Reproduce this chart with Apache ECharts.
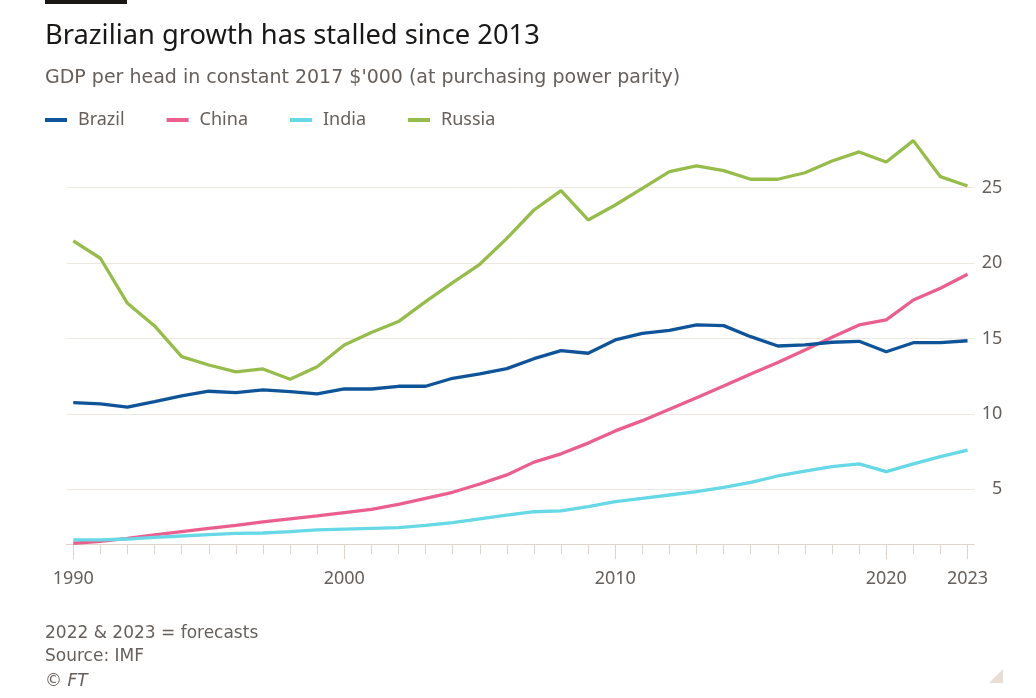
<!DOCTYPE html>
<html>
<head>
<meta charset="utf-8">
<script src="https://cdn.jsdelivr.net/npm/echarts@6/dist/echarts.min.js"></script>
<style>
html,body{margin:0;padding:0;background:#fff;}
#chart{width:1036px;height:698px;}
</style>
</head>
<body>
<div id="chart"></div>
<script>
const years = [1990,1991,1992,1993,1994,1995,1996,1997,1998,1999,2000,2001,2002,2003,2004,2005,2006,2007,2008,2009,2010,2011,2012,2013,2014,2015,2016,2017,2018,2019,2020,2021,2022,2023];
const brazil = [10.74,10.66,10.44,10.81,11.19,11.5,11.41,11.59,11.47,11.32,11.65,11.65,11.83,11.83,12.36,12.65,13.0,13.66,14.19,14.02,14.9,15.34,15.54,15.9,15.85,15.12,14.5,14.57,14.75,14.81,14.12,14.72,14.73,14.85];
const china = [1.42,1.55,1.75,1.97,2.19,2.41,2.61,2.83,3.03,3.23,3.45,3.67,4.0,4.4,4.8,5.35,5.95,6.8,7.35,8.06,8.87,9.55,10.3,11.07,11.85,12.65,13.4,14.24,15.08,15.9,16.23,17.55,18.33,19.26];
const india = [1.64,1.64,1.7,1.81,1.9,1.99,2.08,2.1,2.19,2.3,2.36,2.41,2.45,2.61,2.79,3.03,3.28,3.51,3.56,3.85,4.18,4.4,4.62,4.84,5.13,5.46,5.88,6.21,6.5,6.68,6.17,6.68,7.16,7.6];
const russia = [21.47,20.32,17.33,15.83,13.8,13.24,12.78,12.98,12.29,13.13,14.57,15.39,16.12,17.44,18.7,19.92,21.64,23.52,24.8,22.86,23.85,24.95,26.06,26.44,26.13,25.56,25.56,25.99,26.77,27.37,26.7,28.12,25.73,25.11];
const seriesNames = ['Brazil','China','India','Russia'];
const xLabelYears = [1990,2000,2010,2020,2023];
const yTicks = [5,10,15,20,25];
const titleText = 'Brazilian growth has stalled since 2013';
const subtitleText = "GDP per head in constant 2017 $'000 (at purchasing power parity)";
const footnotes = ['2022 & 2023 = forecasts','Source: IMF','© FT'];

const colors = ['#0f5499','#eb5f8f','#67d8e6','#96bc4b'];
const values = [brazil, china, india, russia];
const FONT = "'Noto Sans', sans-serif";
const FONT2 = "'DejaVu Sans', sans-serif";
const GREY = '#66605c';
const AXIS = '#ddd4cc';

const chart = echarts.init(document.getElementById('chart'), null, {renderer:'canvas'});
chart.setOption({
  backgroundColor:'#ffffff',
  animation:false,
  textStyle:{fontFamily:FONT},
  title:[
    {text:titleText, left:45, top:21, padding:0, textStyle:{fontFamily:FONT, fontSize:27.3, fontWeight:'normal', color:'#1a1817', lineHeight:30}},
    {text:subtitleText, left:45, top:66, padding:0, textStyle:{fontFamily:FONT2, fontSize:19, fontWeight:'normal', color:GREY, lineHeight:24}},
    {text:footnotes[0], left:45, top:622, padding:0, textStyle:{fontFamily:FONT2, fontSize:17, fontWeight:'normal', color:GREY, lineHeight:24}},
    {text:footnotes[1], left:45, top:645, padding:0, textStyle:{fontFamily:FONT2, fontSize:17, fontWeight:'normal', color:GREY, lineHeight:24}},
    {text:footnotes[2], left:45, top:670, padding:0, textStyle:{fontFamily:FONT2, fontSize:17, fontWeight:'normal', fontStyle:'italic', color:GREY, lineHeight:24}}
  ],
  legend:{
    left:45, top:108, padding:0, icon:'rect', itemWidth:22, itemHeight:4, itemGap:42,
    data:seriesNames,
    textStyle:{fontFamily:FONT, fontSize:18, color:GREY, lineHeight:24, padding:[0,0,0,6]}
  },
  graphic:[
    {type:'rect', shape:{x:45,y:0,width:82,height:4}, style:{fill:'#1a1817'}},
    {type:'polygon', shape:{points:[[989,683],[1003,669],[1003,683]]}, style:{fill:'#e8ded5'}}
  ],
  grid:{left:66.5, right:61.7, top:134.9, bottom:153.7, containLabel:false},
  xAxis:[
    {type:'value', min:1989.75, max:2023.25, position:'bottom',
     axisLine:{show:true, lineStyle:{color:AXIS, width:1}},
     axisTick:{show:true, customValues:years, length:10, lineStyle:{color:AXIS}},
     axisLabel:{show:false},
     splitLine:{show:false}},
    {type:'value', min:1989.75, max:2023.25, position:'bottom',
     axisLine:{show:false},
     axisTick:{show:true, customValues:xLabelYears, length:15, lineStyle:{color:AXIS}},
     axisLabel:{show:true, customValues:xLabelYears, margin:26, fontSize:18, color:GREY, fontFamily:FONT, formatter:v=>String(v)},
     splitLine:{show:false}}
  ],
  yAxis:{
    type:'value', position:'right', min:1.35, max:28.5,
    axisLine:{show:false},
    axisTick:{show:false, customValues:yTicks},
    axisLabel:{customValues:yTicks, margin:28, align:'right', fontSize:18, color:GREY, fontFamily:FONT},
    splitLine:{show:true, customValues:yTicks, lineStyle:{color:'#eee8e2', width:1}}
  },
  series: seriesNames.map((n,i)=>({
    name:n, type:'line', xAxisIndex:0, yAxisIndex:0,
    data: years.map((y,j)=>[y, values[i][j]]),
    showSymbol:false, symbol:'none',
    lineStyle:{color:colors[i], width:3.3},
    itemStyle:{color:colors[i]},
    z: i===0?5:3
  }))
});
</script>
</body>
</html>
